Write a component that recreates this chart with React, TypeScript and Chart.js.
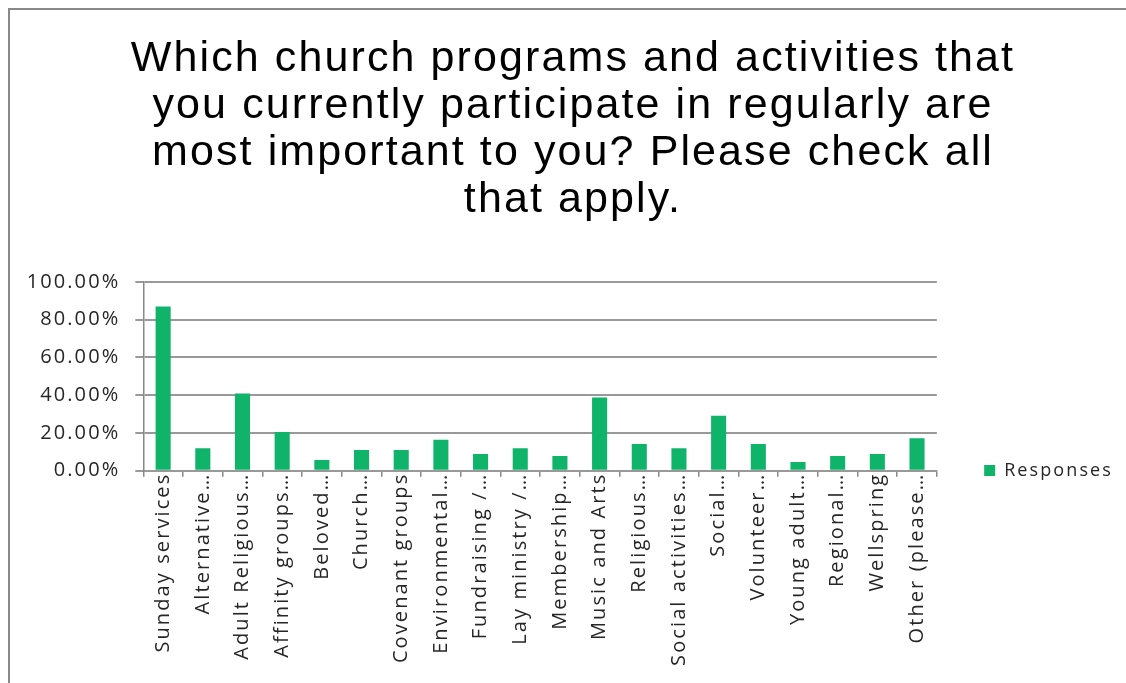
import React, { useEffect, useRef } from 'react';
import { Chart, registerables } from 'chart.js';

Chart.register(...registerables);

const TITLE_LINES = [
  'Which church programs and activities that',
  'you currently participate in regularly are',
  'most important to you? Please check all',
  'that apply.',
];

const CATEGORIES = [
  'Sunday services',
  'Alternative…',
  'Adult Religious…',
  'Affinity groups…',
  'Beloved…',
  'Church…',
  'Covenant groups',
  'Environmental…',
  'Fundraising /…',
  'Lay ministry /…',
  'Membership…',
  'Music and Arts',
  'Religious…',
  'Social activities…',
  'Social…',
  'Volunteer…',
  'Young adult…',
  'Regional…',
  'Wellspring',
  'Other (please…',
];

const RESPONSES = [
  87.0, 11.9, 40.9, 20.5, 5.7, 11.0, 11.0, 16.4, 8.9, 11.9,
  7.8, 38.8, 14.2, 11.9, 29.1, 14.2, 4.6, 7.8, 8.9, 17.2,
];

const SERIES_NAME = 'Responses';
const Y_MIN = 0;
const Y_MAX = 100;
const Y_STEP = 20;

const LETTER_SPACING = '2.1px';
const TICK_FONT = { family: '"Open Sans", sans-serif', size: 20 };
const LEGEND_FONT = { family: '"Open Sans", sans-serif', size: 18 };
const TEXT_COLOR = '#262626';
const GRID_COLOR = '#999999';
const BAR_COLOR = '#10b36a';

const CANVAS_W = 1116;
const CANVAS_H = 921;

export default function App() {
  const ref = useRef<HTMLCanvasElement>(null);

  useEffect(() => {
    const canvas = ref.current;
    if (!canvas) return;

    const spacingPlugin = {
      id: 'letterSpacing',
      beforeLayout(c: any) {
        c.ctx.letterSpacing = LETTER_SPACING;
      },
      beforeDraw(c: any) {
        c.ctx.letterSpacing = LETTER_SPACING;
      },
    };

    const chart = new Chart(canvas, {
      type: 'bar',
      data: {
        labels: CATEGORIES,
        datasets: [
          {
            label: SERIES_NAME,
            data: RESPONSES,
            backgroundColor: BAR_COLOR,
            borderWidth: 0,
            barPercentage: 0.38,
            categoryPercentage: 1,
          },
        ],
      },
      options: {
        responsive: false,
        animation: false,
        layout: { padding: { left: 13, right: 3, top: 0, bottom: 0 } },
        plugins: {
          tooltip: { enabled: false },
          title: {
            display: true,
            text: TITLE_LINES,
            color: '#000000',
            font: { family: '"Liberation Sans", Arial, sans-serif', size: 43, weight: 'normal', lineHeight: 1.1 },
            padding: { top: 25, bottom: 57.8 },
          },
          legend: {
            display: true,
            position: 'right',
            align: 'center',
            fullSize: true,
            labels: {
              boxWidth: 11,
              boxHeight: 11,
              padding: 10,
              color: TEXT_COLOR,
              font: LEGEND_FONT,
            },
          },
        },
        scales: {
          x: {
            type: 'category',
            grid: {
              display: true,
              drawOnChartArea: false,
              drawTicks: true,
              tickLength: 6,
              color: '#888888',
              lineWidth: 1.5,
              offset: true,
            },
            border: { display: true, color: GRID_COLOR, width: 2 },
            ticks: {
              autoSkip: false,
              maxRotation: 90,
              minRotation: 90,
              padding: -4,
              color: TEXT_COLOR,
              font: TICK_FONT,
            },
            afterFit(s: any) {
              s.height = CANVAS_H - 460.7;
            },
          },
          y: {
            type: 'linear',
            position: 'left',
            min: Y_MIN,
            max: Y_MAX,
            ticks: {
              stepSize: Y_STEP,
              padding: 15,
              color: TEXT_COLOR,
              font: TICK_FONT,
              callback: (v: any) => `${Number(v).toFixed(2)}%`,
            },
            grid: {
              color: GRID_COLOR,
              lineWidth: 2,
              tickLength: 8,
              drawTicks: true,
            },
            border: { display: true, color: '#888888', width: 1.5 },
            afterFit(s: any) {
              s.width = 120.3;
            },
          },
          gap: {
            type: 'linear',
            position: 'right',
            display: true,
            grid: { display: false },
            border: { display: false },
            ticks: { display: false },
            afterFit(s: any) {
              s.width = 37.3;
            },
          },
        },
      } as any,
      plugins: [spacingPlugin],
    });

    return () => chart.destroy();
  }, []);

  return (
    <div
      style={{
        position: 'fixed',
        left: 8,
        top: 8,
        width: 1118,
        height: 675,
        borderTop: '2px solid #888888',
        borderLeft: '2px solid #888888',
        boxSizing: 'border-box',
        overflow: 'hidden',
        background: '#ffffff',
      }}
    >
      <canvas
        ref={ref}
        width={CANVAS_W}
        height={CANVAS_H}
        style={{ display: 'block', width: CANVAS_W, height: CANVAS_H }}
      />
    </div>
  );
}
